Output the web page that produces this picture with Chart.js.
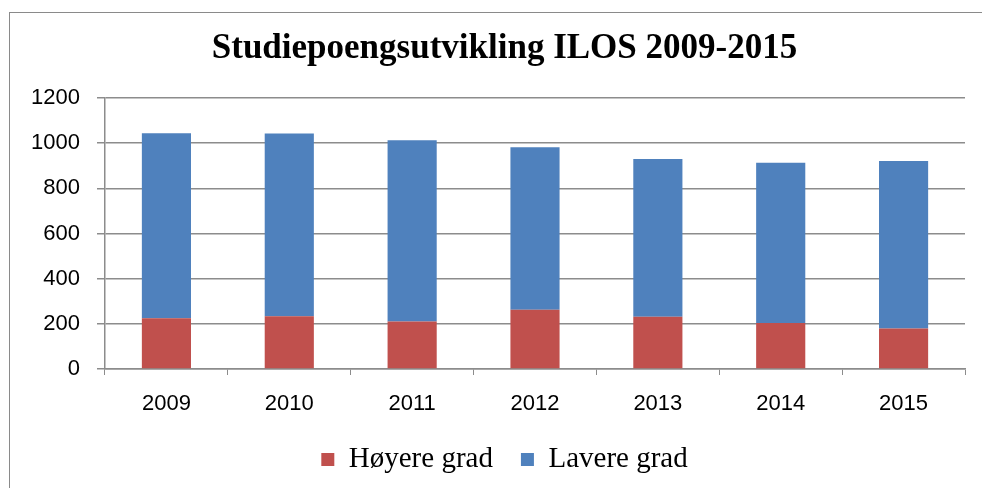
<!DOCTYPE html>
<html>
<head>
<meta charset="utf-8">
<script src="https://cdn.jsdelivr.net/npm/chart.js@4"></script>
<style>
  html, body { margin: 0; padding: 0; background: #fff; }
  #wrap { position: relative; width: 982px; height: 488px; }
  #frame {
    position: absolute; left: 9px; top: 12px; right: -2px; bottom: -2px;
    border-left: 1px solid #8a8a8a; border-top: 1px solid #8a8a8a;
    pointer-events: none;
  }
</style>
</head>
<body>
<div id="wrap">
  <canvas id="studieChart" width="982" height="488"></canvas>
  <div id="frame"></div>
</div>
<script>
// år og studiepoeng (lest av figuren)
const years = ["2009", "2010", "2011", "2012", "2013", "2014", "2015"];
const hoyereGrad = [225, 234, 210, 262, 231, 204, 179];
const lavereGrad = [819, 809, 803, 720, 699, 709, 742];
const yTicks = [0, 200, 400, 600, 800, 1000, 1200];

const gridColor = "#8c8c8c";

// flytt tittel og forklaring litt mot høyre, som i Excel-figuren
const shiftBoxes = {
  id: "shiftBoxes",
  afterLayout(chart) {
    [chart.titleBlock, chart.legend].forEach((box) => {
      if (box) {
        box.left += 17;
        box.right += 17;
      }
    });
  },
};

const ctx = document.getElementById("studieChart").getContext("2d");

const myChart = new Chart(ctx, {
  type: "bar",
  data: {
    labels: years,
    datasets: [
      {
        label: "Høyere grad",
        data: hoyereGrad,
        backgroundColor: "#C0504D",
        barPercentage: 0.4,
        categoryPercentage: 1,
      },
      {
        label: "Lavere grad",
        data: lavereGrad,
        backgroundColor: "#4F81BD",
        barPercentage: 0.4,
        categoryPercentage: 1,
      },
    ],
  },
  options: {
    responsive: false,
    animation: false,
    layout: { padding: { left: 10, right: 17, top: 0, bottom: 4 } },
    plugins: {
      title: {
        display: true,
        text: "Studiepoengsutvikling ILOS 2009-2015",
        color: "#000",
        font: { family: "Liberation Serif", size: 35, weight: "bold" },
        padding: { top: 28, bottom: 28 },
      },
      legend: {
        position: "bottom",
        labels: {
          color: "#000",
          font: { family: "Liberation Serif", size: 29 },
          boxWidth: 13,
          boxHeight: 13,
          padding: 28,
        },
      },
      tooltip: { enabled: false },
    },
    scales: {
      x: {
        stacked: true,
        afterFit: (axis) => {
          axis.height = 48;
        },
        grid: {
          drawOnChartArea: false,
          drawTicks: true,
          tickLength: 6,
          color: gridColor,
        },
        border: { color: gridColor, width: 1.5 },
        ticks: {
          color: "#000",
          padding: 16,
          font: { family: "Liberation Sans", size: 22 },
        },
      },
      y: {
        stacked: true,
        min: 0,
        max: 1200,
        afterBuildTicks: (axis) => {
          axis.ticks = yTicks.map((v) => ({ value: v }));
        },
        afterFit: (axis) => {
          axis.width = 95;
        },
        grid: {
          color: gridColor,
          lineWidth: 1.5,
          tickLength: 8,
        },
        border: { color: gridColor, width: 1.5 },
        ticks: {
          color: "#000",
          padding: 17,
          font: { family: "Liberation Sans", size: 22 },
          callback: (value) => String(value),
        },
      },
    },
  },
  plugins: [shiftBoxes],
});
</script>
</body>
</html>
